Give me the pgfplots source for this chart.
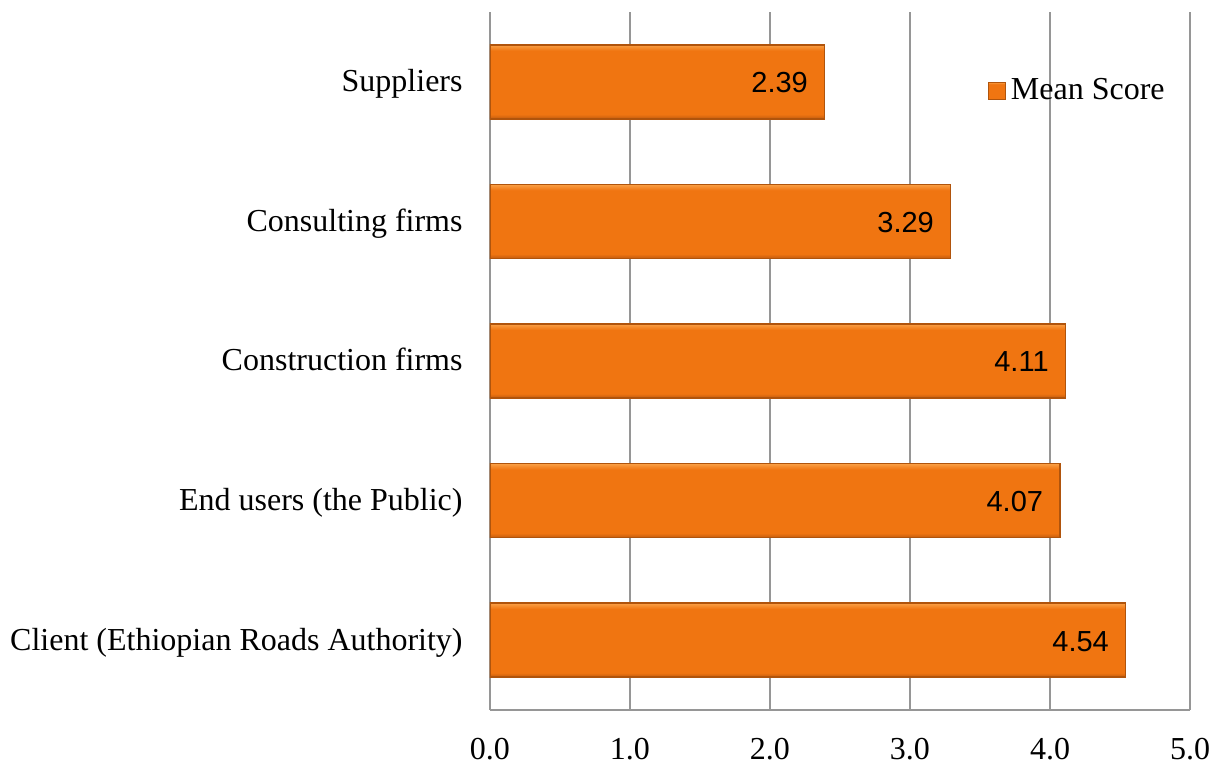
\documentclass[border=0pt]{standalone}
\usepackage{fontspec}
\setmainfont{Liberation Serif}
\newfontfamily\arialfont{Liberation Sans}
\usepackage{pgfplots}
\pgfplotsset{compat=1.18}
\definecolor{barfill}{RGB}{240,117,17}
\definecolor{barlight}{RGB}{250,160,70}
\definecolor{bardark}{RGB}{195,92,15}
\definecolor{baredge}{RGB}{176,84,12}
\definecolor{gridgray}{RGB}{150,150,150}
\pgfdeclareverticalshading{barshade}{100bp}{color(0bp)=(bardark); color(25bp)=(bardark); color(28bp)=(barfill); color(71bp)=(barfill); color(75bp)=(barlight); color(100bp)=(barlight)}
\tikzset{mybar/.style={shading=barshade, draw=baredge, line width=0.75pt}}
\begin{document}
\begin{tikzpicture}
\begin{axis}[
  name=ax,
  scale only axis,
  width=350pt, height=349pt,
  xmin=0, xmax=5, ymin=-0.5, ymax=4.5,
  xbar, bar width=37pt, bar shift=0pt,
  xtick={0,1,2,3,4,5},
  xticklabels={0.0,1.0,2.0,3.0,4.0,5.0},
  ytick={0,1,2,3,4},
  yticklabels={Client (Ethiopian Roads Authority),End users (the Public),Construction firms,Consulting firms,Suppliers},
  major tick length=0pt,
  axis x line*=bottom, axis y line*=left,
  axis line style={gridgray, line width=0.75pt, -},
  xmajorgrids,
  major grid style={gridgray, line width=0.75pt},
  xticklabel style={font=\fontsize{16}{19}\selectfont, inner sep=0pt, anchor=base, yshift=-25pt},
  yticklabel style={font=\fontsize{16}{19}\selectfont, inner sep=0pt, anchor=base east, xshift=-13.5pt, yshift=-5pt},
  point meta=explicit symbolic,
  nodes near coords,
  nodes near coords style={font=\arialfont\fontsize{14.5}{17}\selectfont, anchor=base east, inner sep=0pt, xshift=-8pt, yshift=-5.5pt, text=black},
  legend style={draw=none, fill=none, at={(0.711,0.887)}, anchor=west, inner sep=0pt,
    font=\fontsize{16}{19}\selectfont, nodes={inner sep=2.5pt}},
  legend image code/.code={\draw[shading=barshade, draw=baredge, line width=0.5pt] (0pt,-4.2pt) rectangle (8.4pt,4.2pt);},
]
\addplot[mybar] coordinates {(2.39,4) [2.39]};
\addplot[mybar, forget plot] coordinates {(3.29,3) [3.29]};
\addplot[mybar, forget plot] coordinates {(4.11,2) [4.11]};
\addplot[mybar, forget plot] coordinates {(4.07,1) [4.07]};
\addplot[mybar, forget plot] coordinates {(4.54,0) [4.54]};
\legend{Mean Score}
\end{axis}
\path (ax.south west) ++(-245pt,-27pt) rectangle ++(612.5pt,382pt);
\end{tikzpicture}
\end{document}
